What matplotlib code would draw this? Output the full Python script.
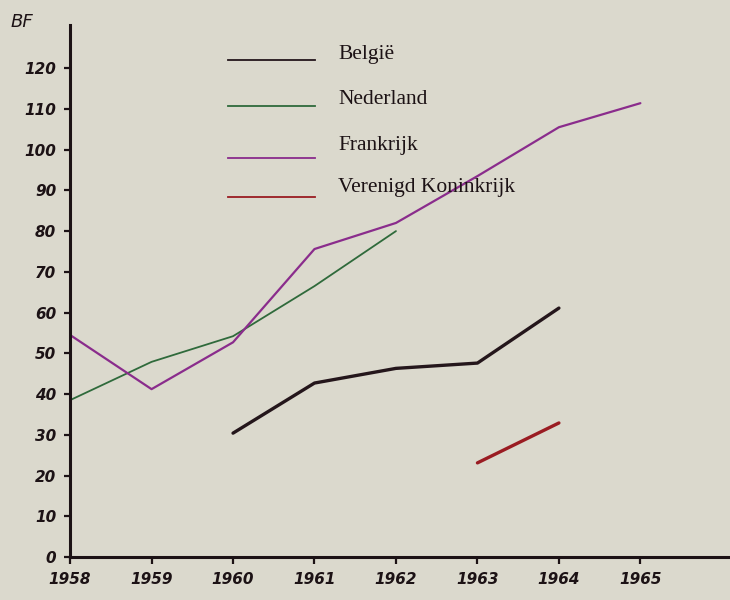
import matplotlib
matplotlib.use('Agg')
import matplotlib.pyplot as plt
from matplotlib.lines import Line2D

# Data (BF)
years = [1958, 1959, 1960, 1961, 1962, 1963, 1964, 1965]

belgie_years = [1960, 1961, 1962, 1963, 1964]
belgie = [30.4, 42.7, 46.3, 47.6, 61.1]

nederland_years = [1958, 1959, 1960, 1961, 1962]
nederland = [38.5, 47.9, 54.2, 66.5, 80.0]

frankrijk_years = [1958, 1959, 1960, 1961, 1962, 1963, 1964, 1965]
frankrijk = [54.5, 41.2, 52.7, 75.6, 82.0, 93.5, 105.5, 111.4]

vk_years = [1963, 1964]
vk = [23.1, 32.9]

labels = ['België', 'Nederland', 'Frankrijk', 'Verenigd Koninkrijk']
colors = ['#24161b', '#2f6a3b', '#8a2c8c', '#9a1c22']
widths = [2.4, 1.3, 1.6, 2.4]

y_ticks = list(range(0, 130, 10))

paper = '#dbd9cd'
ink = '#1c1215'

fig = plt.figure(figsize=(7.3, 6.0), dpi=100, facecolor=paper)
ax = fig.add_axes([0.096, 0.0717, 0.904, 0.886], facecolor=paper)

series = [(belgie_years, belgie), (nederland_years, nederland),
          (frankrijk_years, frankrijk), (vk_years, vk)]
for (xs, ys), c, w in zip(series, colors, widths):
    ax.plot(xs, ys, color=c, linewidth=w, solid_capstyle='round',
            solid_joinstyle='round')

ax.set_xlim(1958, 1966.1)
ax.set_ylim(0, 130.5)

for side in ['top', 'right']:
    ax.spines[side].set_visible(False)
for side in ['left', 'bottom']:
    ax.spines[side].set_color(ink)
    ax.spines[side].set_linewidth(2.2)

ax.set_xticks(years)
ax.set_xticklabels([str(y) for y in years])
ax.set_yticks(y_ticks)
ax.set_yticklabels([str(v) for v in y_ticks])
ax.tick_params(axis='y', length=4, width=1.6, color=ink, pad=6,
               labelsize=11, labelcolor=ink)
ax.tick_params(axis='x', length=5, width=1.6, color=ink, pad=6,
               labelsize=11, labelcolor=ink)
for t in ax.get_xticklabels() + ax.get_yticklabels():
    t.set_style('italic')
    t.set_weight('bold')

fig.text(0.014, 0.955, 'BF', fontsize=13, color=ink, style='italic')

# hand-made legend at the top
leg_line_y = [0.900, 0.823, 0.737, 0.672]
leg_text_y = [0.910, 0.835, 0.757, 0.687]
for lab, c, ly, ty in zip(labels, colors, leg_line_y, leg_text_y):
    fig.add_artist(Line2D([0.313, 0.432], [ly, ly], color=c, linewidth=1.3,
                          transform=fig.transFigure))
    fig.text(0.463, ty, lab, fontsize=15.5, color=ink,
             family='Liberation Serif', va='center')

plt.savefig('out.png', dpi=100, facecolor=paper)
